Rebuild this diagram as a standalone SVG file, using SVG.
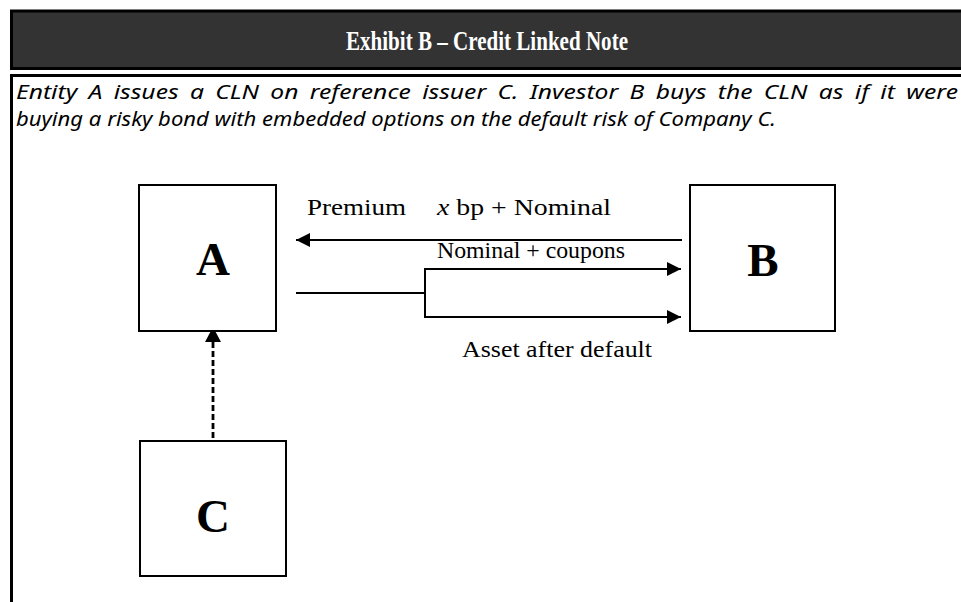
<svg xmlns="http://www.w3.org/2000/svg" width="961" height="602" viewBox="0 0 961 602">
  <style>
    .box { fill: #ffffff; stroke: #000000; stroke-width: 2; }
    .node-label { font-family: "Liberation Serif", "Times New Roman", serif; font-weight: bold; font-size: 47px; fill: #000000; text-anchor: middle; }
    .flow { fill: none; stroke: #000000; stroke-width: 2; }
    .dashed { fill: none; stroke: #000000; stroke-width: 2.8; stroke-dasharray: 6 3; }
    .edge-label { font-family: "Liberation Serif", "Times New Roman", serif; font-size: 24px; fill: #000000; }
    .note { font-family: "Noto Sans", "Open Sans", sans-serif; font-style: italic; font-size: 20px; fill: #000000; }
    .title { font-family: "Liberation Serif", "Times New Roman", serif; font-weight: bold; font-size: 27px; fill: #ffffff; text-anchor: middle; }
  </style>
  <defs>
    <marker id="arrow" markerUnits="userSpaceOnUse" markerWidth="14" markerHeight="14" refX="14" refY="7" orient="auto">
      <path d="M0,0 L14,7 L0,14 Z" fill="#000000"/>
    </marker>
    <marker id="arrow-lg" markerUnits="userSpaceOnUse" markerWidth="15" markerHeight="16" refX="15" refY="8" orient="auto">
      <path d="M0,0 L15,8 L0,16 Z" fill="#000000"/>
    </marker>
  </defs>

  <rect width="961" height="602" fill="#ffffff"/>

  <!-- header bar -->
  <g id="header">
    <rect x="11.5" y="11" width="955" height="57.5" fill="#333333" stroke="#000000" stroke-width="3"/>
    <text class="title" x="487" y="50" textLength="282" lengthAdjust="spacingAndGlyphs">Exhibit B – Credit Linked Note</text>
  </g>

  <!-- frame of the body panel -->
  <path d="M11.5,602 L11.5,75.5 L961,75.5" fill="none" stroke="#000000" stroke-width="3"/>

  <!-- description -->
  <g id="description">
    <text class="note" x="16" y="99" word-spacing="4" textLength="942" lengthAdjust="spacingAndGlyphs">Entity A issues a CLN on reference issuer C. Investor B buys the CLN as if it were</text>
    <text class="note" x="16" y="126" textLength="760" lengthAdjust="spacingAndGlyphs">buying a risky bond with embedded options on the default risk of Company C.</text>
  </g>

  <!-- connectors -->
  <g id="connectors">
    <line class="flow" x1="682" y1="240" x2="296" y2="240" marker-end="url(#arrow)"/>
    <path class="flow" d="M296,293 L425,293"/>
    <path class="flow" d="M425,269 L425,317"/>
    <line class="flow" x1="424" y1="269" x2="681" y2="269" marker-end="url(#arrow)"/>
    <line class="flow" x1="424" y1="317" x2="681" y2="317" marker-end="url(#arrow)"/>
    <line class="dashed" x1="213" y1="438" x2="213" y2="327" marker-end="url(#arrow-lg)"/>

    <text class="edge-label" x="307" y="215" textLength="99" lengthAdjust="spacingAndGlyphs">Premium</text>
    <text class="edge-label" x="437" y="215" font-size="26" textLength="174" lengthAdjust="spacingAndGlyphs"><tspan font-style="italic">x</tspan> bp + Nominal</text>
    <text class="edge-label" x="437" y="258" font-size="20" textLength="188" lengthAdjust="spacingAndGlyphs">Nominal + coupons</text>
    <text class="edge-label" x="462" y="357" textLength="190" lengthAdjust="spacingAndGlyphs">Asset after default</text>
  </g>

  <!-- nodes -->
  <g id="node-A">
    <rect class="box" x="139" y="185" width="137" height="146"/>
    <text class="node-label" x="213" y="275">A</text>
  </g>
  <g id="node-B">
    <rect class="box" x="690" y="185" width="145" height="146"/>
    <text class="node-label" x="763" y="276">B</text>
  </g>
  <g id="node-C">
    <rect class="box" x="140" y="441" width="146" height="135"/>
    <text class="node-label" x="213" y="532">C</text>
  </g>
</svg>
